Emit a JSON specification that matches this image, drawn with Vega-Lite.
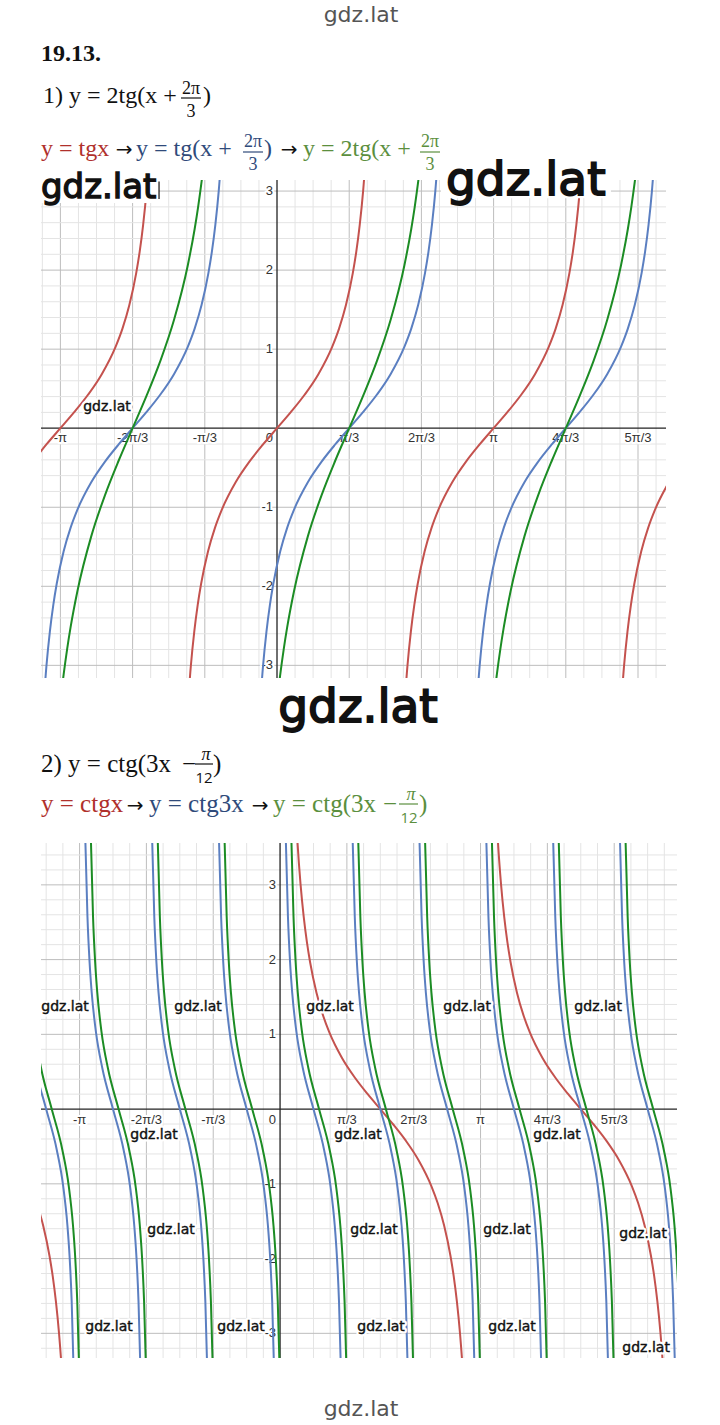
{
"$schema":"https://vega.github.io/schema/vega-lite/v6.json",
"padding":{"left":40,"top":0,"right":0,"bottom":0},
"bounds":"flush",
"spacing":0,
"config":{"view":{"stroke":null},"concat":{"spacing":0}},
"resolve":{"scale":{"color":"independent"}},
"datasets":{
"c1":[
{"s":"r","k":1,"x":-3.5416,"y":-0.4228},{"s":"r","k":1,"x":-3.3416,"y":-0.2027},{"s":"r","k":1,"x":-3.1416,"y":0},{"s":"r","k":1,"x":-2.9416,"y":0.2027},{"s":"r","k":1,"x":-2.7416,"y":0.4228},{"s":"r","k":1,"x":-2.5416,"y":0.6841},{"s":"r","k":1,"x":-2.3416,"y":1.0296},{"s":"r","k":1,"x":-2.2416,"y":1.2602},{"s":"r","k":1,"x":-2.1416,"y":1.5574},{"s":"r","k":1,"x":-2.0416,"y":1.9648},{"s":"r","k":1,"x":-1.9916,"y":2.2345},{"s":"r","k":1,"x":-1.9416,"y":2.5722},{"s":"r","k":1,"x":-1.8916,"y":3.0096},{"s":"r","k":1,"x":-1.8416,"y":3.6021},
{"s":"r","k":2,"x":-1.3,"y":-3.6021},{"s":"r","k":2,"x":-1.25,"y":-3.0096},{"s":"r","k":2,"x":-1.2,"y":-2.5722},{"s":"r","k":2,"x":-1.15,"y":-2.2345},{"s":"r","k":2,"x":-1.1,"y":-1.9648},{"s":"r","k":2,"x":-1.0,"y":-1.5574},{"s":"r","k":2,"x":-0.9,"y":-1.2602},{"s":"r","k":2,"x":-0.8,"y":-1.0296},{"s":"r","k":2,"x":-0.6,"y":-0.6841},{"s":"r","k":2,"x":-0.4,"y":-0.4228},{"s":"r","k":2,"x":-0.2,"y":-0.2027},{"s":"r","k":2,"x":0,"y":0},{"s":"r","k":2,"x":0.2,"y":0.2027},{"s":"r","k":2,"x":0.4,"y":0.4228},{"s":"r","k":2,"x":0.6,"y":0.6841},{"s":"r","k":2,"x":0.8,"y":1.0296},{"s":"r","k":2,"x":0.9,"y":1.2602},{"s":"r","k":2,"x":1.0,"y":1.5574},{"s":"r","k":2,"x":1.1,"y":1.9648},{"s":"r","k":2,"x":1.15,"y":2.2345},{"s":"r","k":2,"x":1.2,"y":2.5722},{"s":"r","k":2,"x":1.25,"y":3.0096},{"s":"r","k":2,"x":1.3,"y":3.6021},
{"s":"r","k":3,"x":1.8416,"y":-3.6021},{"s":"r","k":3,"x":1.8916,"y":-3.0096},{"s":"r","k":3,"x":1.9416,"y":-2.5722},{"s":"r","k":3,"x":1.9916,"y":-2.2345},{"s":"r","k":3,"x":2.0416,"y":-1.9648},{"s":"r","k":3,"x":2.1416,"y":-1.5574},{"s":"r","k":3,"x":2.2416,"y":-1.2602},{"s":"r","k":3,"x":2.3416,"y":-1.0296},{"s":"r","k":3,"x":2.5416,"y":-0.6841},{"s":"r","k":3,"x":2.7416,"y":-0.4228},{"s":"r","k":3,"x":2.9416,"y":-0.2027},{"s":"r","k":3,"x":3.1416,"y":0},{"s":"r","k":3,"x":3.3416,"y":0.2027},{"s":"r","k":3,"x":3.5416,"y":0.4228},{"s":"r","k":3,"x":3.7416,"y":0.6841},{"s":"r","k":3,"x":3.9416,"y":1.0296},{"s":"r","k":3,"x":4.0416,"y":1.2602},{"s":"r","k":3,"x":4.1416,"y":1.5574},{"s":"r","k":3,"x":4.2416,"y":1.9648},{"s":"r","k":3,"x":4.2916,"y":2.2345},{"s":"r","k":3,"x":4.3416,"y":2.5722},{"s":"r","k":3,"x":4.3916,"y":3.0096},{"s":"r","k":3,"x":4.4416,"y":3.6021},
{"s":"r","k":4,"x":4.9832,"y":-3.6021},{"s":"r","k":4,"x":5.0332,"y":-3.0096},{"s":"r","k":4,"x":5.0832,"y":-2.5722},{"s":"r","k":4,"x":5.1332,"y":-2.2345},{"s":"r","k":4,"x":5.1832,"y":-1.9648},{"s":"r","k":4,"x":5.2832,"y":-1.5574},{"s":"r","k":4,"x":5.3832,"y":-1.2602},{"s":"r","k":4,"x":5.4832,"y":-1.0296},{"s":"r","k":4,"x":5.6832,"y":-0.6841},
{"s":"b","k":1,"x":-3.3944,"y":-3.6021},{"s":"b","k":1,"x":-3.3444,"y":-3.0096},{"s":"b","k":1,"x":-3.2944,"y":-2.5722},{"s":"b","k":1,"x":-3.2444,"y":-2.2345},{"s":"b","k":1,"x":-3.1944,"y":-1.9648},{"s":"b","k":1,"x":-3.0944,"y":-1.5574},{"s":"b","k":1,"x":-2.9944,"y":-1.2602},{"s":"b","k":1,"x":-2.8944,"y":-1.0296},{"s":"b","k":1,"x":-2.6944,"y":-0.6841},{"s":"b","k":1,"x":-2.4944,"y":-0.4228},{"s":"b","k":1,"x":-2.2944,"y":-0.2027},{"s":"b","k":1,"x":-2.0944,"y":0},{"s":"b","k":1,"x":-1.8944,"y":0.2027},{"s":"b","k":1,"x":-1.6944,"y":0.4228},{"s":"b","k":1,"x":-1.4944,"y":0.6841},{"s":"b","k":1,"x":-1.2944,"y":1.0296},{"s":"b","k":1,"x":-1.1944,"y":1.2602},{"s":"b","k":1,"x":-1.0944,"y":1.5574},{"s":"b","k":1,"x":-0.9944,"y":1.9648},{"s":"b","k":1,"x":-0.9444,"y":2.2345},{"s":"b","k":1,"x":-0.8944,"y":2.5722},{"s":"b","k":1,"x":-0.8444,"y":3.0096},{"s":"b","k":1,"x":-0.7944,"y":3.6021},
{"s":"b","k":2,"x":-0.2528,"y":-3.6021},{"s":"b","k":2,"x":-0.2028,"y":-3.0096},{"s":"b","k":2,"x":-0.1528,"y":-2.5722},{"s":"b","k":2,"x":-0.1028,"y":-2.2345},{"s":"b","k":2,"x":-0.0528,"y":-1.9648},{"s":"b","k":2,"x":0.0472,"y":-1.5574},{"s":"b","k":2,"x":0.1472,"y":-1.2602},{"s":"b","k":2,"x":0.2472,"y":-1.0296},{"s":"b","k":2,"x":0.4472,"y":-0.6841},{"s":"b","k":2,"x":0.6472,"y":-0.4228},{"s":"b","k":2,"x":0.8472,"y":-0.2027},{"s":"b","k":2,"x":1.0472,"y":0},{"s":"b","k":2,"x":1.2472,"y":0.2027},{"s":"b","k":2,"x":1.4472,"y":0.4228},{"s":"b","k":2,"x":1.6472,"y":0.6841},{"s":"b","k":2,"x":1.8472,"y":1.0296},{"s":"b","k":2,"x":1.9472,"y":1.2602},{"s":"b","k":2,"x":2.0472,"y":1.5574},{"s":"b","k":2,"x":2.1472,"y":1.9648},{"s":"b","k":2,"x":2.1972,"y":2.2345},{"s":"b","k":2,"x":2.2472,"y":2.5722},{"s":"b","k":2,"x":2.2972,"y":3.0096},{"s":"b","k":2,"x":2.3472,"y":3.6021},
{"s":"b","k":3,"x":2.8888,"y":-3.6021},{"s":"b","k":3,"x":2.9388,"y":-3.0096},{"s":"b","k":3,"x":2.9888,"y":-2.5722},{"s":"b","k":3,"x":3.0388,"y":-2.2345},{"s":"b","k":3,"x":3.0888,"y":-1.9648},{"s":"b","k":3,"x":3.1888,"y":-1.5574},{"s":"b","k":3,"x":3.2888,"y":-1.2602},{"s":"b","k":3,"x":3.3888,"y":-1.0296},{"s":"b","k":3,"x":3.5888,"y":-0.6841},{"s":"b","k":3,"x":3.7888,"y":-0.4228},{"s":"b","k":3,"x":3.9888,"y":-0.2027},{"s":"b","k":3,"x":4.1888,"y":0},{"s":"b","k":3,"x":4.3888,"y":0.2027},{"s":"b","k":3,"x":4.5888,"y":0.4228},{"s":"b","k":3,"x":4.7888,"y":0.6841},{"s":"b","k":3,"x":4.9888,"y":1.0296},{"s":"b","k":3,"x":5.0888,"y":1.2602},{"s":"b","k":3,"x":5.1888,"y":1.5574},{"s":"b","k":3,"x":5.2888,"y":1.9648},{"s":"b","k":3,"x":5.3388,"y":2.2345},{"s":"b","k":3,"x":5.3888,"y":2.5722},{"s":"b","k":3,"x":5.4388,"y":3.0096},{"s":"b","k":3,"x":5.4888,"y":3.6021},
{"s":"g","k":1,"x":-3.1944,"y":-3.9296},{"s":"g","k":1,"x":-3.1444,"y":-3.4866},{"s":"g","k":1,"x":-3.0944,"y":-3.1148},{"s":"g","k":1,"x":-3.0444,"y":-2.7968},{"s":"g","k":1,"x":-2.9944,"y":-2.5204},{"s":"g","k":1,"x":-2.8944,"y":-2.0592},{"s":"g","k":1,"x":-2.6944,"y":-1.3682},{"s":"g","k":1,"x":-2.4944,"y":-0.8456},{"s":"g","k":1,"x":-2.2944,"y":-0.4054},{"s":"g","k":1,"x":-2.0944,"y":0},{"s":"g","k":1,"x":-1.8944,"y":0.4054},{"s":"g","k":1,"x":-1.6944,"y":0.8456},{"s":"g","k":1,"x":-1.4944,"y":1.3682},{"s":"g","k":1,"x":-1.2944,"y":2.0592},{"s":"g","k":1,"x":-1.1944,"y":2.5204},{"s":"g","k":1,"x":-1.1444,"y":2.7968},{"s":"g","k":1,"x":-1.0944,"y":3.1148},{"s":"g","k":1,"x":-1.0444,"y":3.4866},{"s":"g","k":1,"x":-0.9944,"y":3.9296},
{"s":"g","k":2,"x":-0.0528,"y":-3.9296},{"s":"g","k":2,"x":-0.0028,"y":-3.4866},{"s":"g","k":2,"x":0.0472,"y":-3.1148},{"s":"g","k":2,"x":0.0972,"y":-2.7968},{"s":"g","k":2,"x":0.1472,"y":-2.5204},{"s":"g","k":2,"x":0.2472,"y":-2.0592},{"s":"g","k":2,"x":0.4472,"y":-1.3682},{"s":"g","k":2,"x":0.6472,"y":-0.8456},{"s":"g","k":2,"x":0.8472,"y":-0.4054},{"s":"g","k":2,"x":1.0472,"y":0},{"s":"g","k":2,"x":1.2472,"y":0.4054},{"s":"g","k":2,"x":1.4472,"y":0.8456},{"s":"g","k":2,"x":1.6472,"y":1.3682},{"s":"g","k":2,"x":1.8472,"y":2.0592},{"s":"g","k":2,"x":1.9472,"y":2.5204},{"s":"g","k":2,"x":1.9972,"y":2.7968},{"s":"g","k":2,"x":2.0472,"y":3.1148},{"s":"g","k":2,"x":2.0972,"y":3.4866},{"s":"g","k":2,"x":2.1472,"y":3.9296},
{"s":"g","k":3,"x":3.0888,"y":-3.9296},{"s":"g","k":3,"x":3.1388,"y":-3.4866},{"s":"g","k":3,"x":3.1888,"y":-3.1148},{"s":"g","k":3,"x":3.2388,"y":-2.7968},{"s":"g","k":3,"x":3.2888,"y":-2.5204},{"s":"g","k":3,"x":3.3888,"y":-2.0592},{"s":"g","k":3,"x":3.5888,"y":-1.3682},{"s":"g","k":3,"x":3.7888,"y":-0.8456},{"s":"g","k":3,"x":3.9888,"y":-0.4054},{"s":"g","k":3,"x":4.1888,"y":0},{"s":"g","k":3,"x":4.3888,"y":0.4054},{"s":"g","k":3,"x":4.5888,"y":0.8456},{"s":"g","k":3,"x":4.7888,"y":1.3682},{"s":"g","k":3,"x":4.9888,"y":2.0592},{"s":"g","k":3,"x":5.0888,"y":2.5204},{"s":"g","k":3,"x":5.1388,"y":2.7968},{"s":"g","k":3,"x":5.1888,"y":3.1148},{"s":"g","k":3,"x":5.2388,"y":3.4866},{"s":"g","k":3,"x":5.2888,"y":3.9296}
],
"c2":[
{"s":"r","k":1,"x":-3.3624,"y":-4.4552},{"s":"r","k":1,"x":-3.4124,"y":-3.6021},{"s":"r","k":1,"x":-3.4624,"y":-3.0096},{"s":"r","k":1,"x":-3.5124,"y":-2.5722},{"s":"r","k":1,"x":-3.5624,"y":-2.2345},{"s":"r","k":1,"x":-3.6124,"y":-1.9648},{"s":"r","k":1,"x":-3.7124,"y":-1.5574},{"s":"r","k":1,"x":-3.8124,"y":-1.2602},{"s":"r","k":1,"x":-3.9124,"y":-1.0296},
{"s":"r","k":2,"x":2.9208,"y":-4.4552},{"s":"r","k":2,"x":2.8708,"y":-3.6021},{"s":"r","k":2,"x":2.8208,"y":-3.0096},{"s":"r","k":2,"x":2.7708,"y":-2.5722},{"s":"r","k":2,"x":2.7208,"y":-2.2345},{"s":"r","k":2,"x":2.6708,"y":-1.9648},{"s":"r","k":2,"x":2.5708,"y":-1.5574},{"s":"r","k":2,"x":2.4708,"y":-1.2602},{"s":"r","k":2,"x":2.3708,"y":-1.0296},{"s":"r","k":2,"x":2.1708,"y":-0.6841},{"s":"r","k":2,"x":1.9708,"y":-0.4228},{"s":"r","k":2,"x":1.7708,"y":-0.2027},{"s":"r","k":2,"x":1.5708,"y":0},{"s":"r","k":2,"x":1.3708,"y":0.2027},{"s":"r","k":2,"x":1.1708,"y":0.4228},{"s":"r","k":2,"x":0.9708,"y":0.6841},{"s":"r","k":2,"x":0.7708,"y":1.0296},{"s":"r","k":2,"x":0.6708,"y":1.2602},{"s":"r","k":2,"x":0.5708,"y":1.5574},{"s":"r","k":2,"x":0.4708,"y":1.9648},{"s":"r","k":2,"x":0.4208,"y":2.2345},{"s":"r","k":2,"x":0.3708,"y":2.5722},{"s":"r","k":2,"x":0.3208,"y":3.0096},{"s":"r","k":2,"x":0.2708,"y":3.6021},{"s":"r","k":2,"x":0.2208,"y":4.4552},
{"s":"r","k":3,"x":6.0624,"y":-4.4552},{"s":"r","k":3,"x":6.0124,"y":-3.6021},{"s":"r","k":3,"x":5.9624,"y":-3.0096},{"s":"r","k":3,"x":5.9124,"y":-2.5722},{"s":"r","k":3,"x":5.8624,"y":-2.2345},{"s":"r","k":3,"x":5.8124,"y":-1.9648},{"s":"r","k":3,"x":5.7124,"y":-1.5574},{"s":"r","k":3,"x":5.6124,"y":-1.2602},{"s":"r","k":3,"x":5.5124,"y":-1.0296},{"s":"r","k":3,"x":5.3124,"y":-0.6841},{"s":"r","k":3,"x":5.1124,"y":-0.4228},{"s":"r","k":3,"x":4.9124,"y":-0.2027},{"s":"r","k":3,"x":4.7124,"y":0},{"s":"r","k":3,"x":4.5124,"y":0.2027},{"s":"r","k":3,"x":4.3124,"y":0.4228},{"s":"r","k":3,"x":4.1124,"y":0.6841},{"s":"r","k":3,"x":3.9124,"y":1.0296},{"s":"r","k":3,"x":3.8124,"y":1.2602},{"s":"r","k":3,"x":3.7124,"y":1.5574},{"s":"r","k":3,"x":3.6124,"y":1.9648},{"s":"r","k":3,"x":3.5624,"y":2.2345},{"s":"r","k":3,"x":3.5124,"y":2.5722},{"s":"r","k":3,"x":3.4624,"y":3.0096},{"s":"r","k":3,"x":3.4124,"y":3.6021},{"s":"r","k":3,"x":3.3624,"y":4.4552},
{"s":"b","k":1,"x":-3.2319,"y":-3.6021},{"s":"b","k":1,"x":-3.2652,"y":-2.5722},{"s":"b","k":1,"x":-3.2985,"y":-1.9648},{"s":"b","k":1,"x":-3.3319,"y":-1.5574},{"s":"b","k":1,"x":-3.3985,"y":-1.0296},{"s":"b","k":1,"x":-3.4985,"y":-0.5463},{"s":"b","k":1,"x":-3.6652,"y":0},{"s":"b","k":1,"x":-3.8319,"y":0.5463},{"s":"b","k":1,"x":-3.9319,"y":1.0296},{"s":"b","k":1,"x":-3.9985,"y":1.5574},{"s":"b","k":1,"x":-4.0319,"y":1.9648},{"s":"b","k":1,"x":-4.0652,"y":2.5722},{"s":"b","k":1,"x":-4.0985,"y":3.6021},
{"s":"b","k":2,"x":-2.1847,"y":-3.6021},{"s":"b","k":2,"x":-2.2180,"y":-2.5722},{"s":"b","k":2,"x":-2.2513,"y":-1.9648},{"s":"b","k":2,"x":-2.2847,"y":-1.5574},{"s":"b","k":2,"x":-2.3513,"y":-1.0296},{"s":"b","k":2,"x":-2.4513,"y":-0.5463},{"s":"b","k":2,"x":-2.6180,"y":0},{"s":"b","k":2,"x":-2.7847,"y":0.5463},{"s":"b","k":2,"x":-2.8847,"y":1.0296},{"s":"b","k":2,"x":-2.9513,"y":1.5574},{"s":"b","k":2,"x":-2.9847,"y":1.9648},{"s":"b","k":2,"x":-3.0180,"y":2.5722},{"s":"b","k":2,"x":-3.0513,"y":3.6021},
{"s":"b","k":3,"x":-1.1375,"y":-3.6021},{"s":"b","k":3,"x":-1.1708,"y":-2.5722},{"s":"b","k":3,"x":-1.2041,"y":-1.9648},{"s":"b","k":3,"x":-1.2375,"y":-1.5574},{"s":"b","k":3,"x":-1.3041,"y":-1.0296},{"s":"b","k":3,"x":-1.4041,"y":-0.5463},{"s":"b","k":3,"x":-1.5708,"y":0},{"s":"b","k":3,"x":-1.7375,"y":0.5463},{"s":"b","k":3,"x":-1.8375,"y":1.0296},{"s":"b","k":3,"x":-1.9041,"y":1.5574},{"s":"b","k":3,"x":-1.9375,"y":1.9648},{"s":"b","k":3,"x":-1.9708,"y":2.5722},{"s":"b","k":3,"x":-2.0041,"y":3.6021},
{"s":"b","k":4,"x":-0.0903,"y":-3.6021},{"s":"b","k":4,"x":-0.1236,"y":-2.5722},{"s":"b","k":4,"x":-0.1569,"y":-1.9648},{"s":"b","k":4,"x":-0.1903,"y":-1.5574},{"s":"b","k":4,"x":-0.2569,"y":-1.0296},{"s":"b","k":4,"x":-0.3569,"y":-0.5463},{"s":"b","k":4,"x":-0.5236,"y":0},{"s":"b","k":4,"x":-0.6903,"y":0.5463},{"s":"b","k":4,"x":-0.7903,"y":1.0296},{"s":"b","k":4,"x":-0.8569,"y":1.5574},{"s":"b","k":4,"x":-0.8903,"y":1.9648},{"s":"b","k":4,"x":-0.9236,"y":2.5722},{"s":"b","k":4,"x":-0.9569,"y":3.6021},
{"s":"b","k":5,"x":0.9569,"y":-3.6021},{"s":"b","k":5,"x":0.9236,"y":-2.5722},{"s":"b","k":5,"x":0.8903,"y":-1.9648},{"s":"b","k":5,"x":0.8569,"y":-1.5574},{"s":"b","k":5,"x":0.7903,"y":-1.0296},{"s":"b","k":5,"x":0.6903,"y":-0.5463},{"s":"b","k":5,"x":0.5236,"y":0},{"s":"b","k":5,"x":0.3569,"y":0.5463},{"s":"b","k":5,"x":0.2569,"y":1.0296},{"s":"b","k":5,"x":0.1903,"y":1.5574},{"s":"b","k":5,"x":0.1569,"y":1.9648},{"s":"b","k":5,"x":0.1236,"y":2.5722},{"s":"b","k":5,"x":0.0903,"y":3.6021},
{"s":"b","k":6,"x":2.0041,"y":-3.6021},{"s":"b","k":6,"x":1.9708,"y":-2.5722},{"s":"b","k":6,"x":1.9375,"y":-1.9648},{"s":"b","k":6,"x":1.9041,"y":-1.5574},{"s":"b","k":6,"x":1.8375,"y":-1.0296},{"s":"b","k":6,"x":1.7375,"y":-0.5463},{"s":"b","k":6,"x":1.5708,"y":0},{"s":"b","k":6,"x":1.4041,"y":0.5463},{"s":"b","k":6,"x":1.3041,"y":1.0296},{"s":"b","k":6,"x":1.2375,"y":1.5574},{"s":"b","k":6,"x":1.2041,"y":1.9648},{"s":"b","k":6,"x":1.1708,"y":2.5722},{"s":"b","k":6,"x":1.1375,"y":3.6021},
{"s":"b","k":7,"x":3.0513,"y":-3.6021},{"s":"b","k":7,"x":3.0180,"y":-2.5722},{"s":"b","k":7,"x":2.9847,"y":-1.9648},{"s":"b","k":7,"x":2.9513,"y":-1.5574},{"s":"b","k":7,"x":2.8847,"y":-1.0296},{"s":"b","k":7,"x":2.7847,"y":-0.5463},{"s":"b","k":7,"x":2.6180,"y":0},{"s":"b","k":7,"x":2.4513,"y":0.5463},{"s":"b","k":7,"x":2.3513,"y":1.0296},{"s":"b","k":7,"x":2.2847,"y":1.5574},{"s":"b","k":7,"x":2.2513,"y":1.9648},{"s":"b","k":7,"x":2.2180,"y":2.5722},{"s":"b","k":7,"x":2.1847,"y":3.6021},
{"s":"b","k":8,"x":4.0985,"y":-3.6021},{"s":"b","k":8,"x":4.0652,"y":-2.5722},{"s":"b","k":8,"x":4.0319,"y":-1.9648},{"s":"b","k":8,"x":3.9985,"y":-1.5574},{"s":"b","k":8,"x":3.9319,"y":-1.0296},{"s":"b","k":8,"x":3.8319,"y":-0.5463},{"s":"b","k":8,"x":3.6652,"y":0},{"s":"b","k":8,"x":3.4985,"y":0.5463},{"s":"b","k":8,"x":3.3985,"y":1.0296},{"s":"b","k":8,"x":3.3319,"y":1.5574},{"s":"b","k":8,"x":3.2985,"y":1.9648},{"s":"b","k":8,"x":3.2652,"y":2.5722},{"s":"b","k":8,"x":3.2319,"y":3.6021},
{"s":"b","k":9,"x":5.1457,"y":-3.6021},{"s":"b","k":9,"x":5.1124,"y":-2.5722},{"s":"b","k":9,"x":5.0791,"y":-1.9648},{"s":"b","k":9,"x":5.0457,"y":-1.5574},{"s":"b","k":9,"x":4.9791,"y":-1.0296},{"s":"b","k":9,"x":4.8791,"y":-0.5463},{"s":"b","k":9,"x":4.7124,"y":0},{"s":"b","k":9,"x":4.5457,"y":0.5463},{"s":"b","k":9,"x":4.4457,"y":1.0296},{"s":"b","k":9,"x":4.3791,"y":1.5574},{"s":"b","k":9,"x":4.3457,"y":1.9648},{"s":"b","k":9,"x":4.3124,"y":2.5722},{"s":"b","k":9,"x":4.2791,"y":3.6021},
{"s":"b","k":10,"x":6.1929,"y":-3.6021},{"s":"b","k":10,"x":6.1596,"y":-2.5722},{"s":"b","k":10,"x":6.1263,"y":-1.9648},{"s":"b","k":10,"x":6.0929,"y":-1.5574},{"s":"b","k":10,"x":6.0263,"y":-1.0296},{"s":"b","k":10,"x":5.9263,"y":-0.5463},{"s":"b","k":10,"x":5.7596,"y":0},{"s":"b","k":10,"x":5.5929,"y":0.5463},{"s":"b","k":10,"x":5.4929,"y":1.0296},{"s":"b","k":10,"x":5.4263,"y":1.5574},{"s":"b","k":10,"x":5.3929,"y":1.9648},{"s":"b","k":10,"x":5.3596,"y":2.5722},{"s":"b","k":10,"x":5.3263,"y":3.6021},
{"s":"g","k":1,"x":-3.1446,"y":-3.6021},{"s":"g","k":1,"x":-3.1779,"y":-2.5722},{"s":"g","k":1,"x":-3.2112,"y":-1.9648},{"s":"g","k":1,"x":-3.2446,"y":-1.5574},{"s":"g","k":1,"x":-3.3112,"y":-1.0296},{"s":"g","k":1,"x":-3.4112,"y":-0.5463},{"s":"g","k":1,"x":-3.5779,"y":0},{"s":"g","k":1,"x":-3.7446,"y":0.5463},{"s":"g","k":1,"x":-3.8446,"y":1.0296},{"s":"g","k":1,"x":-3.9112,"y":1.5574},{"s":"g","k":1,"x":-3.9446,"y":1.9648},{"s":"g","k":1,"x":-3.9779,"y":2.5722},{"s":"g","k":1,"x":-4.0112,"y":3.6021},
{"s":"g","k":2,"x":-2.0974,"y":-3.6021},{"s":"g","k":2,"x":-2.1307,"y":-2.5722},{"s":"g","k":2,"x":-2.1640,"y":-1.9648},{"s":"g","k":2,"x":-2.1974,"y":-1.5574},{"s":"g","k":2,"x":-2.2640,"y":-1.0296},{"s":"g","k":2,"x":-2.3640,"y":-0.5463},{"s":"g","k":2,"x":-2.5307,"y":0},{"s":"g","k":2,"x":-2.6974,"y":0.5463},{"s":"g","k":2,"x":-2.7974,"y":1.0296},{"s":"g","k":2,"x":-2.8640,"y":1.5574},{"s":"g","k":2,"x":-2.8974,"y":1.9648},{"s":"g","k":2,"x":-2.9307,"y":2.5722},{"s":"g","k":2,"x":-2.9640,"y":3.6021},
{"s":"g","k":3,"x":-1.0502,"y":-3.6021},{"s":"g","k":3,"x":-1.0835,"y":-2.5722},{"s":"g","k":3,"x":-1.1168,"y":-1.9648},{"s":"g","k":3,"x":-1.1502,"y":-1.5574},{"s":"g","k":3,"x":-1.2168,"y":-1.0296},{"s":"g","k":3,"x":-1.3168,"y":-0.5463},{"s":"g","k":3,"x":-1.4835,"y":0},{"s":"g","k":3,"x":-1.6502,"y":0.5463},{"s":"g","k":3,"x":-1.7502,"y":1.0296},{"s":"g","k":3,"x":-1.8168,"y":1.5574},{"s":"g","k":3,"x":-1.8502,"y":1.9648},{"s":"g","k":3,"x":-1.8835,"y":2.5722},{"s":"g","k":3,"x":-1.9168,"y":3.6021},
{"s":"g","k":4,"x":-0.0030,"y":-3.6021},{"s":"g","k":4,"x":-0.0363,"y":-2.5722},{"s":"g","k":4,"x":-0.0696,"y":-1.9648},{"s":"g","k":4,"x":-0.1030,"y":-1.5574},{"s":"g","k":4,"x":-0.1696,"y":-1.0296},{"s":"g","k":4,"x":-0.2696,"y":-0.5463},{"s":"g","k":4,"x":-0.4363,"y":0},{"s":"g","k":4,"x":-0.6030,"y":0.5463},{"s":"g","k":4,"x":-0.7030,"y":1.0296},{"s":"g","k":4,"x":-0.7696,"y":1.5574},{"s":"g","k":4,"x":-0.8030,"y":1.9648},{"s":"g","k":4,"x":-0.8363,"y":2.5722},{"s":"g","k":4,"x":-0.8696,"y":3.6021},
{"s":"g","k":5,"x":1.0442,"y":-3.6021},{"s":"g","k":5,"x":1.0109,"y":-2.5722},{"s":"g","k":5,"x":0.9776,"y":-1.9648},{"s":"g","k":5,"x":0.9442,"y":-1.5574},{"s":"g","k":5,"x":0.8776,"y":-1.0296},{"s":"g","k":5,"x":0.7776,"y":-0.5463},{"s":"g","k":5,"x":0.6109,"y":0},{"s":"g","k":5,"x":0.4442,"y":0.5463},{"s":"g","k":5,"x":0.3442,"y":1.0296},{"s":"g","k":5,"x":0.2776,"y":1.5574},{"s":"g","k":5,"x":0.2442,"y":1.9648},{"s":"g","k":5,"x":0.2109,"y":2.5722},{"s":"g","k":5,"x":0.1776,"y":3.6021},
{"s":"g","k":6,"x":2.0914,"y":-3.6021},{"s":"g","k":6,"x":2.0581,"y":-2.5722},{"s":"g","k":6,"x":2.0248,"y":-1.9648},{"s":"g","k":6,"x":1.9914,"y":-1.5574},{"s":"g","k":6,"x":1.9248,"y":-1.0296},{"s":"g","k":6,"x":1.8248,"y":-0.5463},{"s":"g","k":6,"x":1.6581,"y":0},{"s":"g","k":6,"x":1.4914,"y":0.5463},{"s":"g","k":6,"x":1.3914,"y":1.0296},{"s":"g","k":6,"x":1.3248,"y":1.5574},{"s":"g","k":6,"x":1.2914,"y":1.9648},{"s":"g","k":6,"x":1.2581,"y":2.5722},{"s":"g","k":6,"x":1.2248,"y":3.6021},
{"s":"g","k":7,"x":3.1386,"y":-3.6021},{"s":"g","k":7,"x":3.1053,"y":-2.5722},{"s":"g","k":7,"x":3.0720,"y":-1.9648},{"s":"g","k":7,"x":3.0386,"y":-1.5574},{"s":"g","k":7,"x":2.9720,"y":-1.0296},{"s":"g","k":7,"x":2.8720,"y":-0.5463},{"s":"g","k":7,"x":2.7053,"y":0},{"s":"g","k":7,"x":2.5386,"y":0.5463},{"s":"g","k":7,"x":2.4386,"y":1.0296},{"s":"g","k":7,"x":2.3720,"y":1.5574},{"s":"g","k":7,"x":2.3386,"y":1.9648},{"s":"g","k":7,"x":2.3053,"y":2.5722},{"s":"g","k":7,"x":2.2720,"y":3.6021},
{"s":"g","k":8,"x":4.1858,"y":-3.6021},{"s":"g","k":8,"x":4.1525,"y":-2.5722},{"s":"g","k":8,"x":4.1192,"y":-1.9648},{"s":"g","k":8,"x":4.0858,"y":-1.5574},{"s":"g","k":8,"x":4.0192,"y":-1.0296},{"s":"g","k":8,"x":3.9192,"y":-0.5463},{"s":"g","k":8,"x":3.7525,"y":0},{"s":"g","k":8,"x":3.5858,"y":0.5463},{"s":"g","k":8,"x":3.4858,"y":1.0296},{"s":"g","k":8,"x":3.4192,"y":1.5574},{"s":"g","k":8,"x":3.3858,"y":1.9648},{"s":"g","k":8,"x":3.3525,"y":2.5722},{"s":"g","k":8,"x":3.3192,"y":3.6021},
{"s":"g","k":9,"x":5.2330,"y":-3.6021},{"s":"g","k":9,"x":5.1997,"y":-2.5722},{"s":"g","k":9,"x":5.1664,"y":-1.9648},{"s":"g","k":9,"x":5.1330,"y":-1.5574},{"s":"g","k":9,"x":5.0664,"y":-1.0296},{"s":"g","k":9,"x":4.9664,"y":-0.5463},{"s":"g","k":9,"x":4.7997,"y":0},{"s":"g","k":9,"x":4.6330,"y":0.5463},{"s":"g","k":9,"x":4.5330,"y":1.0296},{"s":"g","k":9,"x":4.4664,"y":1.5574},{"s":"g","k":9,"x":4.4330,"y":1.9648},{"s":"g","k":9,"x":4.3997,"y":2.5722},{"s":"g","k":9,"x":4.3664,"y":3.6021},
{"s":"g","k":10,"x":6.2802,"y":-3.6021},{"s":"g","k":10,"x":6.2469,"y":-2.5722},{"s":"g","k":10,"x":6.2136,"y":-1.9648},{"s":"g","k":10,"x":6.1802,"y":-1.5574},{"s":"g","k":10,"x":6.1136,"y":-1.0296},{"s":"g","k":10,"x":6.0136,"y":-0.5463},{"s":"g","k":10,"x":5.8469,"y":0},{"s":"g","k":10,"x":5.6802,"y":0.5463},{"s":"g","k":10,"x":5.5802,"y":1.0296},{"s":"g","k":10,"x":5.5136,"y":1.5574},{"s":"g","k":10,"x":5.4802,"y":1.9648},{"s":"g","k":10,"x":5.4469,"y":2.5722},{"s":"g","k":10,"x":5.4136,"y":3.6021}
],
"gx":[{"v":-3.66519,"m":0},{"v":-3.40339,"m":0},{"v":-3.14159,"m":1},{"v":-2.87979,"m":0},{"v":-2.61799,"m":0},{"v":-2.35619,"m":0},{"v":-2.0944,"m":1},{"v":-1.8326,"m":0},{"v":-1.5708,"m":0},{"v":-1.309,"m":0},{"v":-1.0472,"m":1},{"v":-0.7854,"m":0},{"v":-0.5236,"m":0},{"v":-0.2618,"m":0},{"v":0.2618,"m":0},{"v":0.5236,"m":0},{"v":0.7854,"m":0},{"v":1.0472,"m":1},{"v":1.309,"m":0},{"v":1.5708,"m":0},{"v":1.8326,"m":0},{"v":2.0944,"m":1},{"v":2.35619,"m":0},{"v":2.61799,"m":0},{"v":2.87979,"m":0},{"v":3.14159,"m":1},{"v":3.40339,"m":0},{"v":3.66519,"m":0},{"v":3.92699,"m":0},{"v":4.18879,"m":1},{"v":4.45059,"m":0},{"v":4.71239,"m":0},{"v":4.97419,"m":0},{"v":5.23599,"m":1},{"v":5.49779,"m":0},{"v":5.75959,"m":0},{"v":6.02139,"m":0}],
"gy":[{"v":-3.2,"m":0},{"v":-3,"m":1},{"v":-2.8,"m":0},{"v":-2.6,"m":0},{"v":-2.4,"m":0},{"v":-2.2,"m":0},{"v":-2,"m":1},{"v":-1.8,"m":0},{"v":-1.6,"m":0},{"v":-1.4,"m":0},{"v":-1.2,"m":0},{"v":-1,"m":1},{"v":-0.8,"m":0},{"v":-0.6,"m":0},{"v":-0.4,"m":0},{"v":-0.2,"m":0},{"v":0.2,"m":0},{"v":0.4,"m":0},{"v":0.6,"m":0},{"v":0.8,"m":0},{"v":1,"m":1},{"v":1.2,"m":0},{"v":1.4,"m":0},{"v":1.6,"m":0},{"v":1.8,"m":0},{"v":2,"m":1},{"v":2.2,"m":0},{"v":2.4,"m":0},{"v":2.6,"m":0},{"v":2.8,"m":0},{"v":3,"m":1},{"v":3.2,"m":0},{"v":3.4,"m":0}],
"xl":[{"l":"-π","x":-3.14159},{"l":"-2π/3","x":-2.0944},{"l":"-π/3","x":-1.0472},{"l":"π/3","x":1.0472},{"l":"2π/3","x":2.0944},{"l":"π","x":3.14159},{"l":"4π/3","x":4.18879},{"l":"5π/3","x":5.23599}],
"yl":[{"l":"1","y":1},{"l":"2","y":2},{"l":"3","y":3},{"l":"-1","y":-1},{"l":"-2","y":-2},{"l":"-3","y":-3}],
"wm2":[{"x":-3.369,"y":1.366},{"x":-1.285,"y":1.366},{"x":0.784,"y":1.366},{"x":2.931,"y":1.366},{"x":4.984,"y":1.366},{"x":-1.975,"y":-0.346},{"x":1.222,"y":-0.346},{"x":4.341,"y":-0.346},{"x":-1.708,"y":-1.617},{"x":1.473,"y":-1.617},{"x":3.557,"y":-1.617},{"x":5.689,"y":-1.67},{"x":-2.68,"y":-2.915},{"x":-0.611,"y":-2.915},{"x":1.583,"y":-2.915},{"x":3.636,"y":-2.915},{"x":5.736,"y":-3.195}]
},
"vconcat":[
{
"width":680,"height":180,
"layer":[
{"data":{"values":[{"t":"gdz.lat","x":320,"y":15}]},
 "mark":{"type":"text","font":"DejaVu Sans","fontSize":22,"color":"#555555","align":"center","baseline":"middle"},
 "encoding":{"x":{"field":"x","type":"quantitative","scale":{"domain":[0,680],"nice":false,"zero":false},"axis":null},"y":{"field":"y","type":"quantitative","scale":{"domain":[0,180],"reverse":true,"nice":false,"zero":false},"axis":null},"text":{"field":"t"}}},
{"data":{"values":[{"t":"19.13.","x":0,"y":61}]},
 "mark":{"type":"text","font":"Liberation Serif","fontSize":24,"fontWeight":"bold","color":"#111111","align":"left","baseline":"alphabetic"},
 "encoding":{"x":{"field":"x","type":"quantitative","axis":null},"y":{"field":"y","type":"quantitative","axis":null},"text":{"field":"t"}}},
{"data":{"values":[{"t":"1) y = 2tg(x +","x":2,"y":103,"c":"k"},{"t":")","x":162,"y":103,"c":"k"},{"t":"y = tgx","x":0,"y":156,"c":"r"},{"t":"y = tg(x +","x":95,"y":156,"c":"b"},{"t":")","x":223,"y":156,"c":"b"},{"t":"y = 2tg(x +","x":262,"y":156,"c":"g"}]},
 "mark":{"type":"text","font":"Liberation Serif","fontSize":24,"align":"left","baseline":"alphabetic"},
 "encoding":{"x":{"field":"x","type":"quantitative","axis":null},"y":{"field":"y","type":"quantitative","axis":null},"text":{"field":"t"},"color":{"field":"c","type":"nominal","scale":{"domain":["k","r","b","g"],"range":["#111111","#b0302c","#2f4a7a","#5b8f3e"]},"legend":null}}},
{"data":{"values":[{"t":"→","x":83,"y":156},{"t":"→","x":248,"y":156}]},
 "mark":{"type":"text","font":"DejaVu Sans","fontSize":20,"align":"center","baseline":"alphabetic","color":"#111111"},
 "encoding":{"x":{"field":"x","type":"quantitative","axis":null},"y":{"field":"y","type":"quantitative","axis":null},"text":{"field":"t"}}},
{"data":{"values":[{"t":"2π","x":150,"y":94,"c":"k"},{"t":"3","x":150,"y":117,"c":"k"},{"t":"2π","x":212,"y":147,"c":"b"},{"t":"3","x":212,"y":170,"c":"b"},{"t":"2π","x":389,"y":147,"c":"g"},{"t":"3","x":389,"y":170,"c":"g"}]},
 "mark":{"type":"text","font":"Liberation Serif","fontSize":18,"align":"center","baseline":"alphabetic"},
 "encoding":{"x":{"field":"x","type":"quantitative","axis":null},"y":{"field":"y","type":"quantitative","axis":null},"text":{"field":"t"},"color":{"field":"c","type":"nominal","scale":{"domain":["k","r","b","g"],"range":["#111111","#b0302c","#2f4a7a","#5b8f3e"]},"legend":null}}},
{"data":{"values":[{"x":140,"x2":160,"y":98,"c":"k"},{"x":202,"x2":222,"y":152,"c":"b"},{"x":379,"x2":399,"y":152,"c":"g"}]},
 "mark":{"type":"rule","strokeWidth":1.2},
 "encoding":{"x":{"field":"x","type":"quantitative","axis":null},"x2":{"field":"x2"},"y":{"field":"y","type":"quantitative","axis":null},"color":{"field":"c","type":"nominal","scale":{"domain":["k","r","b","g"],"range":["#111111","#b0302c","#2f4a7a","#5b8f3e"]},"legend":null}}}
]
},
{
"width":625,"height":498,
"layer":[
{"data":{"name":"gx"},
 "mark":{"type":"rule","clip":true,"strokeWidth":1},
 "encoding":{"x":{"field":"v","type":"quantitative","scale":{"domain":[-3.423,5.642],"nice":false,"zero":false},"axis":null},
  "color":{"condition":{"test":"datum.m == 1","value":"#bdbdbd"},"value":"#e4e4e4"}}},
{"data":{"name":"gy"},
 "mark":{"type":"rule","clip":true,"strokeWidth":1},
 "encoding":{"y":{"field":"v","type":"quantitative","scale":{"domain":[-3.16,3.14],"nice":false,"zero":false},"axis":null},
  "color":{"condition":{"test":"datum.m == 1","value":"#bdbdbd"},"value":"#e4e4e4"}}},
{"data":{"name":"xl"},
 "mark":{"type":"text","font":"Liberation Sans","fontSize":13,"align":"center","baseline":"top","dy":4,"color":"white","stroke":"white","strokeWidth":4,"strokeJoin":"round"},
 "encoding":{"x":{"field":"x","type":"quantitative","axis":null},"y":{"datum":0,"type":"quantitative","axis":null},"text":{"field":"l"}}},
{"data":{"name":"xl"},
 "mark":{"type":"text","font":"Liberation Sans","fontSize":13,"align":"center","baseline":"top","dy":4,"color":"#333333"},
 "encoding":{"x":{"field":"x","type":"quantitative","axis":null},"y":{"datum":0,"type":"quantitative","axis":null},"text":{"field":"l"}}},
{"data":{"name":"yl"},
 "mark":{"type":"text","font":"Liberation Sans","fontSize":13,"align":"right","baseline":"middle","dx":-4,"color":"white","stroke":"white","strokeWidth":4,"strokeJoin":"round"},
 "encoding":{"x":{"datum":0,"type":"quantitative","axis":null},"y":{"field":"y","type":"quantitative","axis":null},"text":{"field":"l"}}},
{"data":{"name":"yl"},
 "mark":{"type":"text","font":"Liberation Sans","fontSize":13,"align":"right","baseline":"middle","dx":-4,"color":"#333333"},
 "encoding":{"x":{"datum":0,"type":"quantitative","axis":null},"y":{"field":"y","type":"quantitative","axis":null},"text":{"field":"l"}}},
{"data":{"values":[{"l":"0"}]},
 "mark":{"type":"text","font":"Liberation Sans","fontSize":13,"align":"right","baseline":"top","dx":-4,"dy":4,"color":"#333333"},
 "encoding":{"x":{"datum":0,"type":"quantitative","axis":null},"y":{"datum":0,"type":"quantitative","axis":null},"text":{"field":"l"}}},
{"data":{"values":[{"v":0}]},"mark":{"type":"rule","color":"#222222","strokeWidth":1.3},"encoding":{"y":{"field":"v","type":"quantitative","axis":null}}},
{"data":{"values":[{"v":0}]},"mark":{"type":"rule","color":"#222222","strokeWidth":1.3},"encoding":{"x":{"field":"v","type":"quantitative","axis":null}}},
{"data":{"name":"c1"},
 "mark":{"type":"line","interpolate":"monotone","clip":true,"strokeWidth":2},
 "encoding":{
  "x":{"field":"x","type":"quantitative","axis":null},
  "y":{"field":"y","type":"quantitative","axis":null},
  "color":{"field":"s","type":"nominal","scale":{"domain":["r","b","g"],"range":["#c4524e","#5b7fc1","#1c8c24"]},"legend":null},
  "detail":{"field":"k","type":"nominal"}}},
{"data":{"values":[{"x":-3.423,"x2":-1.711,"y":2.85,"y2":3.14},{"x":2.378,"x2":4.843,"y":2.91,"y2":3.52}]},
 "mark":{"type":"rect","color":"white"},
 "encoding":{"x":{"field":"x","type":"quantitative","axis":null},"x2":{"field":"x2"},"y":{"field":"y","type":"quantitative","axis":null},"y2":{"field":"y2"}}},
{"data":{"values":[{"x":-1.711,"y":2.9,"y2":3.12}]},
 "mark":{"type":"rule","color":"#111111","strokeWidth":1.2},
 "encoding":{"x":{"field":"x","type":"quantitative","axis":null},"y":{"field":"y","type":"quantitative","axis":null},"y2":{"field":"y2"}}},
{"data":{"values":[{"t":"gdz.lat","x":-3.423,"y":2.912}]},
 "mark":{"type":"text","font":"DejaVu Sans","fontSize":34,"align":"left","baseline":"alphabetic","color":"#111111","stroke":"#111111","strokeWidth":1.4},
 "encoding":{"x":{"field":"x","type":"quantitative","axis":null},"y":{"field":"y","type":"quantitative","axis":null},"text":{"field":"t"}}},
{"data":{"values":[{"t":"gdz.lat","x":2.451,"y":2.95}]},
 "mark":{"type":"text","font":"DejaVu Sans","fontSize":47,"align":"left","baseline":"alphabetic","color":"#111111","stroke":"#111111","strokeWidth":1.8},
 "encoding":{"x":{"field":"x","type":"quantitative","axis":null},"y":{"field":"y","type":"quantitative","axis":null},"text":{"field":"t"}}},
{"data":{"values":[{"t":"gdz.lat","x":-2.466,"y":0.266}]},
 "mark":{"type":"text","font":"DejaVu Sans","fontSize":14,"align":"center","baseline":"middle","color":"white","stroke":"white","strokeWidth":5,"strokeJoin":"round"},
 "encoding":{"x":{"field":"x","type":"quantitative","axis":null},"y":{"field":"y","type":"quantitative","axis":null},"text":{"field":"t"}}},
{"data":{"values":[{"t":"gdz.lat","x":-2.466,"y":0.266}]},
 "mark":{"type":"text","font":"DejaVu Sans","fontSize":14,"align":"center","baseline":"middle","color":"#111111","stroke":"#111111","strokeWidth":0.4},
 "encoding":{"x":{"field":"x","type":"quantitative","axis":null},"y":{"field":"y","type":"quantitative","axis":null},"text":{"field":"t"}}}
]
},
{
"width":680,"height":165,
"layer":[
{"data":{"values":[{"t":"gdz.lat","x":317,"y":44}]},
 "mark":{"type":"text","font":"DejaVu Sans","fontSize":47,"color":"#111111","stroke":"#111111","strokeWidth":1.8,"align":"center","baseline":"alphabetic"},
 "encoding":{"x":{"field":"x","type":"quantitative","scale":{"domain":[0,680],"nice":false,"zero":false},"axis":null},"y":{"field":"y","type":"quantitative","scale":{"domain":[0,165],"reverse":true,"nice":false,"zero":false},"axis":null},"text":{"field":"t"}}},
{"data":{"values":[{"t":"2) y = ctg(3x","x":0,"y":94,"c":"k"},{"t":"−","x":141,"y":94,"c":"k"},{"t":")","x":172,"y":94,"c":"k"},{"t":"y = ctgx","x":0,"y":134,"c":"r"},{"t":"y = ctg3x","x":108,"y":134,"c":"b"},{"t":"y = ctg(3x","x":232,"y":134,"c":"g"},{"t":"−","x":342,"y":134,"c":"g"},{"t":")","x":378,"y":134,"c":"g"}]},
 "mark":{"type":"text","font":"Liberation Serif","fontSize":25,"align":"left","baseline":"alphabetic"},
 "encoding":{"x":{"field":"x","type":"quantitative","axis":null},"y":{"field":"y","type":"quantitative","axis":null},"text":{"field":"t"},"color":{"field":"c","type":"nominal","scale":{"domain":["k","r","b","g"],"range":["#111111","#b0302c","#2f4a7a","#5b8f3e"]},"legend":null}}},
{"data":{"values":[{"t":"→","x":94,"y":134},{"t":"→","x":219,"y":134}]},
 "mark":{"type":"text","font":"DejaVu Sans","fontSize":20,"align":"center","baseline":"alphabetic","color":"#111111"},
 "encoding":{"x":{"field":"x","type":"quantitative","axis":null},"y":{"field":"y","type":"quantitative","axis":null},"text":{"field":"t"}}},
{"data":{"values":[{"t":"π","x":165,"y":82,"c":"k"},{"t":"π","x":370,"y":122,"c":"g"}]},
 "mark":{"type":"text","font":"Liberation Serif","fontSize":18,"fontStyle":"italic","align":"center","baseline":"alphabetic"},
 "encoding":{"x":{"field":"x","type":"quantitative","axis":null},"y":{"field":"y","type":"quantitative","axis":null},"text":{"field":"t"},"color":{"field":"c","type":"nominal","scale":{"domain":["k","r","b","g"],"range":["#111111","#b0302c","#2f4a7a","#5b8f3e"]},"legend":null}}},
{"data":{"values":[{"t":"12","x":163,"y":105,"c":"k"},{"t":"12","x":368,"y":145,"c":"g"}]},
 "mark":{"type":"text","font":"Open Sans","fontSize":15,"align":"center","baseline":"alphabetic"},
 "encoding":{"x":{"field":"x","type":"quantitative","axis":null},"y":{"field":"y","type":"quantitative","axis":null},"text":{"field":"t"},"color":{"field":"c","type":"nominal","scale":{"domain":["k","r","b","g"],"range":["#111111","#b0302c","#2f4a7a","#5b8f3e"]},"legend":null}}},
{"data":{"values":[{"x":154,"x2":172,"y":86,"c":"k"},{"x":358,"x2":377,"y":126,"c":"g"}]},
 "mark":{"type":"rule","strokeWidth":1.2},
 "encoding":{"x":{"field":"x","type":"quantitative","axis":null},"x2":{"field":"x2"},"y":{"field":"y","type":"quantitative","axis":null},"color":{"field":"c","type":"nominal","scale":{"domain":["k","r","b","g"],"range":["#111111","#b0302c","#2f4a7a","#5b8f3e"]},"legend":null}}}
]
},
{
"width":636,"height":515,
"layer":[
{"data":{"name":"gx"},
 "mark":{"type":"rule","clip":true,"strokeWidth":1},
 "encoding":{"x":{"field":"v","type":"quantitative","scale":{"domain":[-3.746,6.22],"nice":false,"zero":false},"axis":null},
  "color":{"condition":{"test":"datum.m == 1","value":"#bdbdbd"},"value":"#e4e4e4"}}},
{"data":{"name":"gy"},
 "mark":{"type":"rule","clip":true,"strokeWidth":1},
 "encoding":{"y":{"field":"v","type":"quantitative","scale":{"domain":[-3.33,3.56],"nice":false,"zero":false},"axis":null},
  "color":{"condition":{"test":"datum.m == 1","value":"#bdbdbd"},"value":"#e4e4e4"}}},
{"data":{"name":"xl"},
 "mark":{"type":"text","font":"Liberation Sans","fontSize":13,"align":"center","baseline":"top","dy":5,"color":"white","stroke":"white","strokeWidth":4,"strokeJoin":"round"},
 "encoding":{"x":{"field":"x","type":"quantitative","axis":null},"y":{"datum":0,"type":"quantitative","axis":null},"text":{"field":"l"}}},
{"data":{"name":"xl"},
 "mark":{"type":"text","font":"Liberation Sans","fontSize":13,"align":"center","baseline":"top","dy":5,"color":"#333333"},
 "encoding":{"x":{"field":"x","type":"quantitative","axis":null},"y":{"datum":0,"type":"quantitative","axis":null},"text":{"field":"l"}}},
{"data":{"name":"yl"},
 "mark":{"type":"text","font":"Liberation Sans","fontSize":13,"align":"right","baseline":"middle","dx":-4,"color":"white","stroke":"white","strokeWidth":4,"strokeJoin":"round"},
 "encoding":{"x":{"datum":0,"type":"quantitative","axis":null},"y":{"field":"y","type":"quantitative","axis":null},"text":{"field":"l"}}},
{"data":{"name":"yl"},
 "mark":{"type":"text","font":"Liberation Sans","fontSize":13,"align":"right","baseline":"middle","dx":-4,"color":"#333333"},
 "encoding":{"x":{"datum":0,"type":"quantitative","axis":null},"y":{"field":"y","type":"quantitative","axis":null},"text":{"field":"l"}}},
{"data":{"values":[{"l":"0"}]},
 "mark":{"type":"text","font":"Liberation Sans","fontSize":13,"align":"right","baseline":"top","dx":-4,"dy":5,"color":"#333333"},
 "encoding":{"x":{"datum":0,"type":"quantitative","axis":null},"y":{"datum":0,"type":"quantitative","axis":null},"text":{"field":"l"}}},
{"data":{"values":[{"v":0}]},"mark":{"type":"rule","color":"#222222","strokeWidth":1.3},"encoding":{"y":{"field":"v","type":"quantitative","axis":null}}},
{"data":{"values":[{"v":0}]},"mark":{"type":"rule","color":"#222222","strokeWidth":1.3},"encoding":{"x":{"field":"v","type":"quantitative","axis":null}}},
{"data":{"name":"c2"},
 "mark":{"type":"line","interpolate":"monotone","clip":true,"strokeWidth":2},
 "encoding":{
  "x":{"field":"x","type":"quantitative","axis":null},
  "y":{"field":"y","type":"quantitative","axis":null},
  "color":{"field":"s","type":"nominal","scale":{"domain":["r","b","g"],"range":["#c4524e","#5b7fc1","#1c8c24"]},"legend":null},
  "detail":{"field":"k","type":"nominal"}}},
{"data":{"name":"wm2"},
 "mark":{"type":"text","font":"DejaVu Sans","fontSize":14,"align":"center","baseline":"middle","color":"white","stroke":"white","strokeWidth":5,"strokeJoin":"round"},
 "encoding":{"x":{"field":"x","type":"quantitative","axis":null},"y":{"field":"y","type":"quantitative","axis":null},"text":{"value":"gdz.lat"}}},
{"data":{"name":"wm2"},
 "mark":{"type":"text","font":"DejaVu Sans","fontSize":14,"align":"center","baseline":"middle","color":"#111111","stroke":"#111111","strokeWidth":0.4},
 "encoding":{"x":{"field":"x","type":"quantitative","axis":null},"y":{"field":"y","type":"quantitative","axis":null},"text":{"value":"gdz.lat"}}}
]
},
{
"width":680,"height":67,
"layer":[
{"data":{"values":[{"t":"gdz.lat","x":320,"y":51}]},
 "mark":{"type":"text","font":"DejaVu Sans","fontSize":22,"color":"#555555","align":"center","baseline":"middle"},
 "encoding":{"x":{"field":"x","type":"quantitative","scale":{"domain":[0,680],"nice":false,"zero":false},"axis":null},"y":{"field":"y","type":"quantitative","scale":{"domain":[0,67],"reverse":true,"nice":false,"zero":false},"axis":null},"text":{"field":"t"}}}
]
}
]
}
